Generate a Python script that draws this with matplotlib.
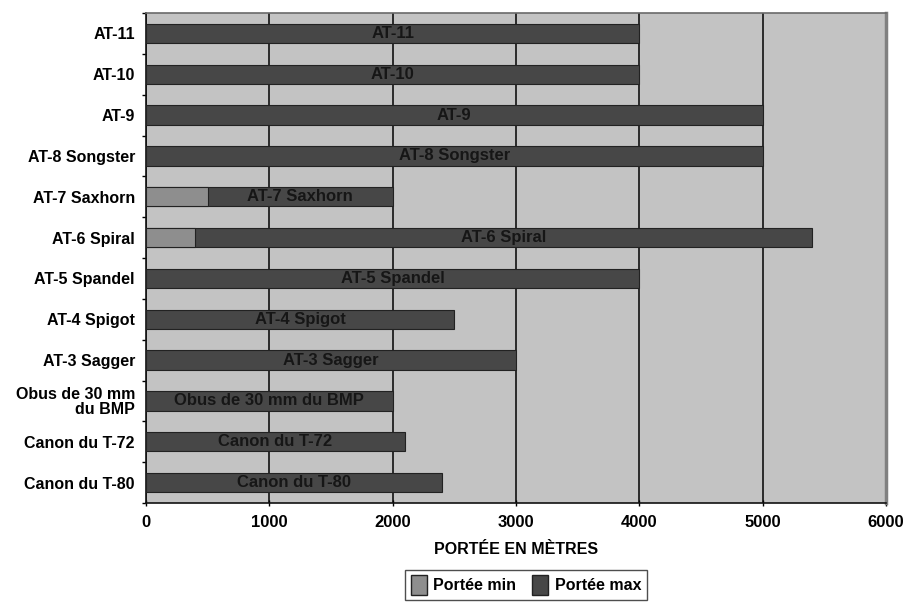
import matplotlib
matplotlib.use("Agg")
import matplotlib.pyplot as plt
from matplotlib.patches import Patch

categories = ["AT-11", "AT-10", "AT-9", "AT-8 Songster", "AT-7 Saxhorn", "AT-6 Spiral",
              "AT-5 Spandel", "AT-4 Spigot", "AT-3 Sagger", "Obus de 30 mm\ndu BMP",
              "Canon du T-72", "Canon du T-80"]
bar_labels = ["AT-11", "AT-10", "AT-9", "AT-8 Songster", "AT-7 Saxhorn", "AT-6 Spiral",
              "AT-5 Spandel", "AT-4 Spigot", "AT-3 Sagger", "Obus de 30 mm du BMP",
              "Canon du T-72", "Canon du T-80"]
portee_min = [0, 0, 0, 0, 500, 400, 0, 0, 0, 0, 0, 0]
portee_max = [4000, 4000, 5000, 5000, 2000, 5400, 4000, 2500, 3000, 2000, 2100, 2400]
xticks = [0, 1000, 2000, 3000, 4000, 5000, 6000]

plt.rcParams['font.family'] = ['Liberation Sans', 'DejaVu Sans']
FS = 11.5

fig = plt.figure(figsize=(9.14, 6.04), dpi=100)
ax = fig.add_axes([146/914, 1-503/604, (886-146)/914, (503-13)/604])
ax.set_facecolor("#c3c3c3")

n = len(categories)
ypos = [n - 1 - i for i in range(n)]

dark = "#474747"
mid = "#8e8e8e"
for i in range(n):
    y = ypos[i]
    ax.barh(y, portee_max[i], height=0.47, color=dark, edgecolor="#222222", linewidth=0.8, zorder=3)
    if portee_min[i] > 0:
        ax.barh(y, portee_min[i], height=0.47, color=mid, edgecolor="#222222", linewidth=0.8, zorder=4)
    xc = (portee_min[i] + portee_max[i]) / 2
    ax.text(xc, y, bar_labels[i], ha="center", va="center", fontsize=12,
            fontweight="bold", color="#161616", zorder=5)

ax.set_xlim(0, 6000)
ax.set_ylim(-0.5, n - 0.5)
ax.set_xticks(xticks)
ax.set_xticklabels([str(v) for v in xticks], fontsize=12, fontweight="bold")
ax.xaxis.grid(True, color="#111111", linewidth=1.2, zorder=1)
ax.set_axisbelow(True)

ax.set_yticks(ypos)
ax.set_yticklabels(categories, fontsize=FS, fontweight="bold", linespacing=0.95)
ax.tick_params(axis="y", length=0, pad=8)
ax.set_yticks([k + 0.5 for k in range(-1, n)], minor=True)
ax.tick_params(axis="y", which="minor", length=3, direction="out", width=1)
ax.tick_params(axis="x", length=5, direction="inout", width=1, pad=6)

for s in ["left", "bottom"]:
    ax.spines[s].set_color("#111111")
    ax.spines[s].set_linewidth(1.2)
ax.spines["right"].set_color("#808080")
ax.spines["right"].set_linewidth(2.5)
ax.spines["top"].set_color("#6a6a6a")
ax.spines["top"].set_linewidth(1.2)

ax.set_xlabel("PORTÉE EN MÈTRES", fontsize=FS, fontweight="bold", labelpad=9)

handles = [Patch(facecolor=mid, edgecolor="#222222", label="Portée min"),
           Patch(facecolor=dark, edgecolor="#222222", label="Portée max")]
leg = fig.legend(handles=handles, loc="center", bbox_to_anchor=(526/914, 1-585/604), ncol=2,
                 frameon=True, fancybox=False, edgecolor="#222222",
                 handlelength=1.0, handleheight=1.5, handletextpad=0.4, columnspacing=1.0,
                 borderpad=0.35, prop={"weight": "bold", "size": FS})
leg.get_frame().set_linewidth(1.0)

fig.savefig("out.png", dpi=100)
